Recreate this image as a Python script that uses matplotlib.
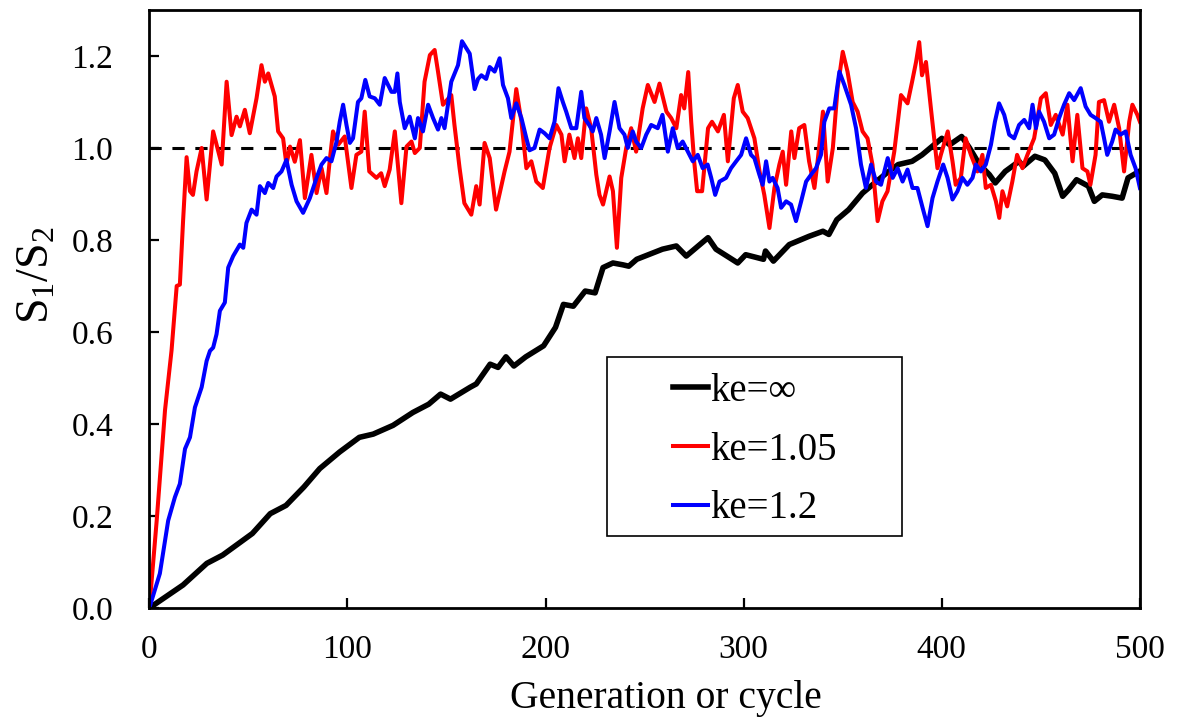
import matplotlib
matplotlib.use("Agg")
import matplotlib.pyplot as plt
from matplotlib.patches import Rectangle

plt.rcParams['font.family'] = ['Liberation Serif', 'DejaVu Serif']
plt.rcParams['mathtext.fontset'] = 'custom'
plt.rcParams['mathtext.rm'] = 'Liberation Serif'
plt.rcParams['mathtext.it'] = 'Liberation Serif:italic'

# ke = infinity (black)
gen_black = [0, 17, 29, 37, 52, 61, 69, 78, 86, 96, 106, 113, 123, 133, 141, 147, 152, 162, 165,
             172, 176, 180, 184, 190, 199, 205, 209, 214, 220, 225, 229, 234, 239, 242, 246, 259,
             266, 271, 282, 286, 293, 297, 301, 310, 311, 315, 323, 333, 340, 343, 347, 353, 360,
             365, 372, 378, 385, 390, 395, 400, 404, 410, 414, 419, 424, 427, 432, 439, 441, 447,
             452, 457, 461, 464, 468, 474, 477, 481, 486, 491, 494, 498, 500]
val_black = [0.0, 0.05, 0.097, 0.115, 0.162, 0.205, 0.223, 0.263, 0.303, 0.339, 0.371, 0.378, 0.397,
             0.425, 0.443, 0.465, 0.454, 0.48, 0.487, 0.53, 0.523, 0.546, 0.526, 0.546, 0.57, 0.61,
             0.66, 0.656, 0.689, 0.685, 0.74, 0.75, 0.746, 0.743, 0.758, 0.78, 0.787, 0.765, 0.805,
             0.78, 0.761, 0.75, 0.768, 0.758, 0.776, 0.754, 0.79, 0.808, 0.819, 0.812, 0.844, 0.866,
             0.902, 0.92, 0.945, 0.964, 0.971, 0.985, 1.003, 1.021, 1.007, 1.025, 1.0, 0.964, 0.942,
             0.924, 0.949, 0.971, 0.96, 0.982, 0.974, 0.945, 0.895, 0.909, 0.931, 0.917, 0.884,
             0.898, 0.895, 0.891, 0.935, 0.945, 0.95]

# ke = 1.05 (red)
gen_red = [0, 3.7, 7.9, 11.2, 13.8, 15.4, 17, 18.8, 20.5, 22, 23.8, 26.4, 28.9, 32.2, 36.5, 39, 41.5,
           44, 45.7, 48.2, 50.7, 54.1, 56.6, 58.3, 60, 63.3, 65, 67.5, 69.2, 71, 73.4, 76, 78.5,
           81.8, 84.4, 86.9, 89.4, 91, 92.7, 95.3, 98.6, 102, 104.5, 107, 108.7, 111, 114.6, 117,
           118.8, 121.3, 123.9, 127.2, 129.8, 132.3, 134, 136.5, 138.9, 141.6, 144, 145.7, 148.2,
           152.4, 154, 156.6, 159, 162.5, 165, 166.7, 169.2, 171.8, 175, 179.3, 181.8, 185.2, 187.8,
           190.3, 192.8, 195.3, 198.6, 202, 205.4, 208, 209.6, 212, 214.6, 216.3, 218, 220.5, 223,
           225.6, 227.2, 229, 232.3, 234, 236, 238.2, 240.7, 243.2, 245.7, 249, 251.6, 255, 257.5,
           261, 263.4, 266, 268.4, 270, 272, 273.5, 275, 276.5, 279, 282, 284, 287, 290, 292, 295,
           297, 299.5, 302, 305.4, 308, 310.4, 313, 315.5, 318, 319.7, 321.4, 324, 325.6, 328,
           330.6, 333, 335.7, 337.3, 340, 342.4, 345, 347.4, 350, 352.4, 355, 357.5, 360, 362.5,
           365, 367.6, 370, 372.6, 376, 379.4, 382.7, 385, 387, 388.6, 390, 392, 394.5, 397.8,
           399.5, 403, 405.4, 407, 409.6, 412, 414.7, 418, 420.5, 422.2, 424.8, 427.3, 429, 430.6,
           433, 435.6, 438, 440.7, 443.2, 446.6, 450, 452.5, 455, 457.5, 461, 463.4, 466, 468.4,
           471, 473.5, 475, 477.6, 479.3, 481.9, 484.4, 487, 489.5, 492, 494.6, 496.2, 498.7, 500]
val_red = [0.0, 0.19, 0.43, 0.56, 0.70, 0.703, 0.84, 0.98, 0.906, 0.898, 0.949, 1.0, 0.888, 1.036,
           0.964, 1.144, 1.028, 1.068, 1.047, 1.083, 1.032, 1.108, 1.18, 1.144, 1.162, 1.112, 1.036,
           1.021, 0.964, 1.003, 0.97, 1.017, 0.891, 0.985, 0.902, 0.956, 0.902, 0.971, 1.036, 1.007,
           1.025, 0.913, 0.985, 0.992, 1.079, 0.949, 0.935, 0.945, 0.917, 0.953, 1.036, 0.88, 1.003,
           1.014, 0.989, 1.0, 1.144, 1.202, 1.213, 1.166, 1.094, 1.115, 1.05, 0.956, 0.88, 0.855,
           0.917, 0.877, 1.011, 0.978, 0.866, 0.949, 0.992, 1.128, 1.057, 0.956, 0.971, 0.927,
           0.913, 1.0, 1.05, 1.029, 0.971, 1.029, 0.978, 1.021, 0.978, 1.086, 1.043, 0.942, 0.898,
           0.877, 0.938, 0.906, 0.783, 0.935, 1.0, 1.043, 0.992, 1.086, 1.137, 1.1, 1.14, 1.079,
           1.065, 1.043, 1.115, 1.086, 1.165, 1.057, 0.971, 0.906, 0.906, 1.043, 1.057, 1.036,
           1.072, 0.971, 1.108, 1.137, 1.079, 1.065, 1.021, 0.949, 0.898, 0.826, 0.913, 0.964,
           0.992, 0.92, 1.036, 0.978, 1.043, 1.05, 0.971, 0.913, 0.971, 1.079, 0.927, 1.0, 1.13,
           1.209, 1.166, 1.1, 1.079, 1.036, 1.021, 0.964, 0.841, 0.884, 0.906, 0.992, 1.115, 1.097,
           1.144, 1.187, 1.23, 1.158, 1.187, 1.086, 0.956, 0.985, 1.036, 0.971, 0.92, 0.935, 1.021,
           0.985, 0.949, 0.985, 0.913, 0.92, 0.884, 0.848, 0.906, 0.873, 0.927, 0.985, 0.956, 0.985,
           1.021, 1.108, 1.119, 1.05, 1.072, 1.029, 1.094, 0.971, 1.072, 0.956, 0.949, 0.92, 0.985,
           1.1, 1.104, 1.057, 1.094, 1.043, 0.949, 1.057, 1.094, 1.072, 1.057]

# ke = 1.2 (blue)
gen_blue = [0, 5.3, 9.5, 12.9, 15.4, 18, 20.5, 23, 26.4, 28.9, 30.6, 32.2, 33.9, 35.6, 38.1, 39.8,
            42.3, 45.7, 47.4, 49, 51.6, 54.1, 55.8, 58.3, 60, 62.5, 64.2, 66.7, 69.2, 71.8, 74.3,
            77.6, 81, 84.4, 86.9, 89.4, 91.9, 94.5, 96.1, 97.8, 99.5, 101.2, 102.8, 105.3, 107, 109,
            111.2, 113.8, 116.3, 118.8, 122.2, 123.9, 125.2, 126.4, 128.9, 131.4, 134, 135.6, 138.1,
            140.7, 143.2, 145.7, 147.4, 149, 152.4, 155.8, 157.8, 161.7, 164.2, 165.9, 167.6, 170,
            171.8, 174.3, 176.8, 178.5, 181, 182.7, 185.2, 187.8, 190.3, 191.9, 194.4, 197, 199.5,
            202, 204.5, 206.5, 208.7, 210.4, 213, 215.5, 218, 219.6, 222, 223.8, 225.6, 228, 229.8,
            232.3, 234.8, 237.3, 239.8, 241.5, 244, 245.7, 248.3, 250.8, 253.3, 256.6, 259, 261.7,
            264.2, 266.7, 269.2, 271.8, 274.3, 276.8, 279.3, 281.8, 283.6, 285.6, 287.8, 291.1,
            293.6, 296.2, 298.7, 301.2, 303.7, 305.4, 307.9, 309.6, 311.3, 313, 314.6, 317.1, 318.9,
            321.4, 323.9, 326.4, 329, 331.5, 334, 336.5, 339, 340.7, 343.2, 345.7, 348.3, 350.8,
            354.2, 356.7, 359.2, 361.7, 364.3, 366.8, 369.3, 372.7, 375.2, 377.7, 380.2, 382.7,
            385.2, 387.7, 390.3, 392.8, 395.3, 397.8, 400.7, 402.9, 405.4, 407.9, 410.4, 412.9,
            415.5, 417.2, 419.7, 422.2, 424.8, 426.8, 428.9, 431.5, 434, 436.5, 439, 441.6, 444.1,
            445.8, 447.5, 449.1, 451.6, 454.2, 456.7, 459.2, 461.7, 464.3, 466.8, 470.1, 472.6,
            475.1, 477.6, 480.2, 481.9, 483.5, 486, 487.7, 490.2, 492.8, 495.3, 497.8, 500]
val_blue = [0.0, 0.075, 0.19, 0.241, 0.27, 0.346, 0.371, 0.436, 0.48, 0.537, 0.559, 0.566, 0.595,
            0.646, 0.664, 0.74, 0.765, 0.79, 0.783, 0.837, 0.866, 0.855, 0.917, 0.902, 0.924, 0.913,
            0.938, 0.949, 0.974, 0.92, 0.884, 0.859, 0.891, 0.935, 0.964, 0.978, 0.971, 1.014, 1.057,
            1.094, 1.05, 1.011, 1.021, 1.1, 1.108, 1.148, 1.112, 1.108, 1.094, 1.152, 1.122, 1.122,
            1.162, 1.1, 1.043, 1.068, 1.021, 1.065, 1.036, 1.094, 1.065, 1.04, 1.065, 1.043, 1.144,
            1.18, 1.232, 1.205, 1.128, 1.15, 1.158, 1.15, 1.176, 1.166, 1.195, 1.137, 1.108, 1.065,
            1.097, 1.065, 1.021, 0.995, 1.0, 1.04, 1.032, 1.021, 1.057, 1.13, 1.1, 1.079, 1.043,
            1.043, 1.122, 1.065, 1.05, 1.036, 1.065, 1.029, 0.978, 1.036, 1.1, 1.043, 1.029, 1.0,
            1.036, 1.014, 1.0, 1.029, 1.05, 1.043, 1.072, 0.992, 1.043, 1.0, 1.014, 0.992, 0.971,
            0.985, 0.956, 0.964, 0.935, 0.898, 0.927, 0.935, 0.956, 0.971, 0.985, 1.021, 0.985,
            0.978, 0.942, 0.92, 0.971, 0.927, 0.935, 0.913, 0.87, 0.884, 0.877, 0.841, 0.884, 0.927,
            0.942, 0.956, 0.985, 1.057, 1.086, 1.086, 1.166, 1.137, 1.094, 1.043, 0.964, 0.913,
            0.964, 0.927, 0.92, 0.978, 0.935, 0.956, 0.927, 0.953, 0.913, 0.913, 0.87, 0.83, 0.891,
            0.927, 0.964, 0.935, 0.888, 0.906, 0.935, 0.92, 0.935, 0.964, 0.949, 0.964, 1.007,
            1.057, 1.097, 1.072, 1.029, 1.021, 1.05, 1.061, 1.043, 1.094, 1.043, 1.079, 1.057,
            1.021, 1.029, 1.065, 1.094, 1.119, 1.104, 1.13, 1.09, 1.072, 1.065, 1.057, 1.021, 0.985,
            1.014, 1.04, 1.029, 1.036, 0.985, 0.956, 0.913]

x_ticks = [0, 100, 200, 300, 400, 500]
y_ticks = [0.0, 0.2, 0.4, 0.6, 0.8, 1.0, 1.2]
y_tick_labels = ['0.0', '0.2', '0.4', '0.6', '0.8', '1.0', '1.2']
labels = ['ke=\u221e', 'ke=1.05', 'ke=1.2']
ref_level = 1.0

fig = plt.figure(figsize=(11.77, 7.22), dpi=100)
ax = fig.add_axes([0.1269, 0.1579, 0.8416, 0.8283])

ax.plot(gen_black, val_black, color='black', lw=4.0, label=labels[0], solid_joinstyle='round')
ax.plot(gen_red, val_red, color='#ff0000', lw=2.9, label=labels[1], solid_joinstyle='round')
ax.plot(gen_blue, val_blue, color='#0000ff', lw=2.9, label=labels[2], solid_joinstyle='round')
ax.axhline(ref_level, color='black', lw=2.2, ls=(0, (4, 3.5)), zorder=1)

ax.set_xlim(0, 500)
ax.set_ylim(0, 1.3)
ax.set_xticks(x_ticks)
ax.set_yticks(y_ticks)
ax.set_yticklabels(y_tick_labels)
ax.tick_params(direction='in', length=7, width=1.6, labelsize=24)
ax.tick_params(axis='x', pad=19)
ax.tick_params(axis='y', pad=26)
for s in ax.spines.values():
    s.set_linewidth(2.0)

ax.set_xlabel('Generation or cycle', fontsize=28.5)
ax.xaxis.set_label_coords(0.5215, -0.121)
ax.set_ylabel(r'S$_1$/S$_2$', fontsize=33)
ax.yaxis.set_label_coords(-0.092, 0.557)

# legend frame drawn as a plain rectangle, legend entries without frame
ax.add_patch(Rectangle((0.4616, 0.1209), 0.2979, 0.2993, transform=ax.transAxes,
                       fill=True, facecolor='white', edgecolor='black', lw=1.2, zorder=5))
leg = ax.legend(loc='center left', bbox_to_anchor=(0.529, 0.264), fontsize=28, frameon=False,
                handlelength=0.9, handletextpad=0.05, labelspacing=0.56, borderpad=0,
                borderaxespad=0)
leg.set_zorder(6)

fig.savefig('out.png', dpi=100)
